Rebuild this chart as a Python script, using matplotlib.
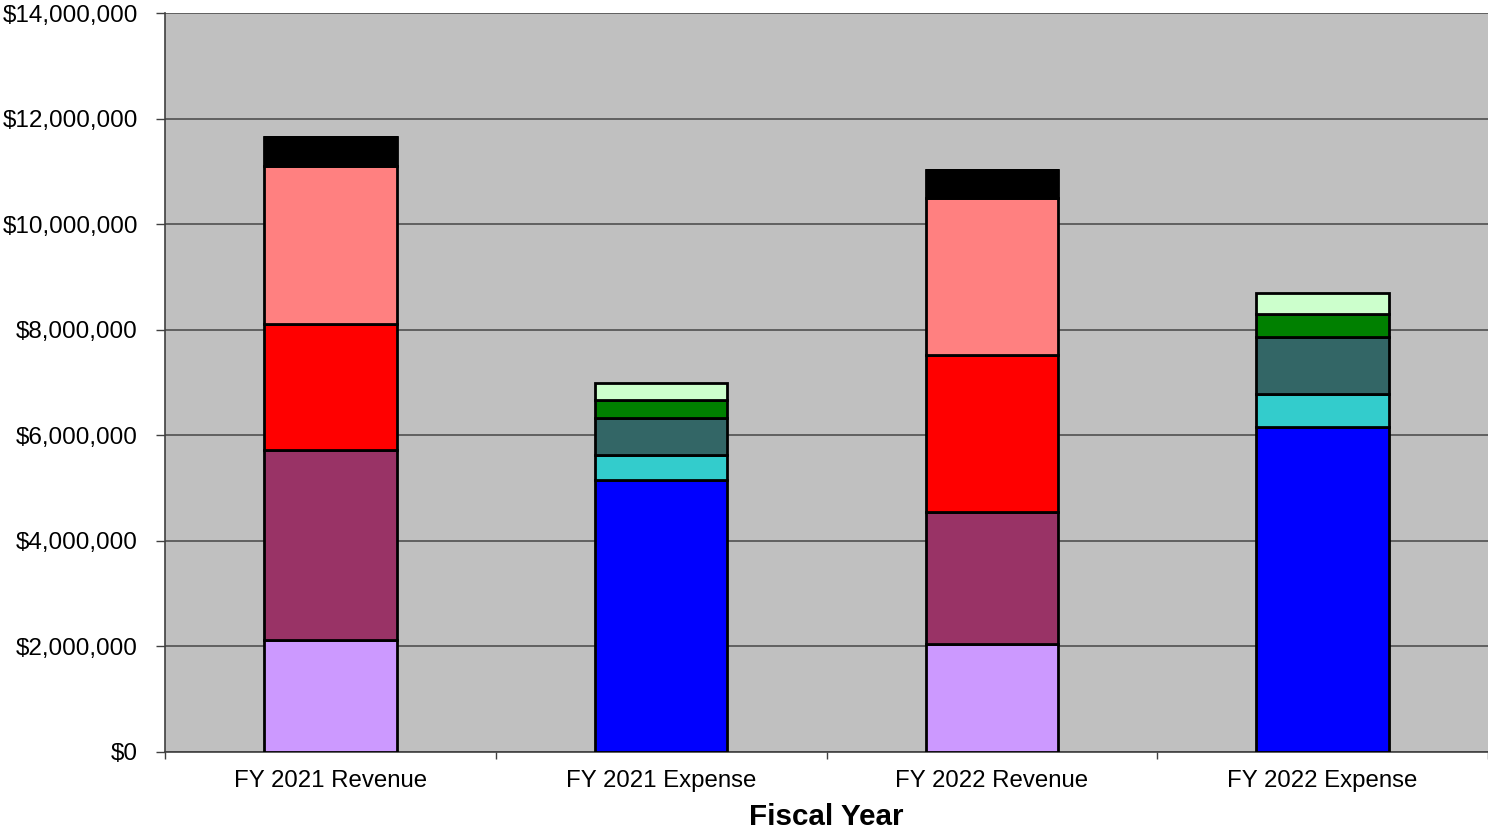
import numpy as np
import matplotlib.pyplot as plt
from matplotlib.ticker import FuncFormatter, FixedLocator

plt.rcParams['font.family'] = ['Liberation Sans', 'DejaVu Sans']

# Data (dollars, millions)
categories = ['FY 2021 Revenue', 'FY 2021 Expense', 'FY 2022 Revenue', 'FY 2022 Expense']

# revenue segments (bottom to top) -- zero for expense columns
rev_lavender = [2.13, 0, 2.05, 0]
rev_plum = [3.59, 0, 2.49, 0]
rev_red = [2.39, 0, 2.99, 0]
rev_pink = [2.99, 0, 2.96, 0]
rev_black = [0.55, 0, 0.53, 0]

# expense segments (bottom to top) -- zero for revenue columns
exp_blue = [0, 5.16, 0, 6.16]
exp_cyan = [0, 0.46, 0, 0.62]
exp_teal = [0, 0.71, 0, 1.09]
exp_green = [0, 0.33, 0, 0.42]
exp_lightgreen = [0, 0.34, 0, 0.41]

segments = [
    (rev_lavender, '#CC99FF'),
    (rev_plum, '#993366'),
    (rev_red, '#FF0000'),
    (rev_pink, '#FF8080'),
    (rev_black, '#000000'),
    (exp_blue, '#0000FF'),
    (exp_cyan, '#33CCCC'),
    (exp_teal, '#336666'),
    (exp_green, '#008000'),
    (exp_lightgreen, '#CCFFCC'),
]

fig = plt.figure(figsize=(14.88, 8.35), dpi=100)
ax = fig.add_axes([165 / 1488, 1 - 752 / 835, (1488 - 165) / 1488, (752 - 13) / 835])
ax.set_facecolor('#C0C0C0')

x = np.arange(len(categories))
bottom = np.zeros(len(categories))
for vals, color in segments:
    v = np.array(vals) * 1e6
    ax.bar(x, v, width=0.4, bottom=bottom, color=color, edgecolor='black',
           linewidth=2, zorder=3)
    bottom += v

ax.set_xlim(-0.5, len(categories) - 0.5)
ax.set_ylim(0, 14e6)
ax.set_yticks(np.arange(0, 14e6 + 1, 2e6))
ax.yaxis.set_major_formatter(FuncFormatter(lambda v, p: f'${v:,.0f}'))
ax.grid(axis='y', color='#505050', linewidth=1.2, zorder=1)

ax.set_xticks(x)
ax.set_xticklabels(categories)
ax.xaxis.set_minor_locator(FixedLocator(np.arange(-0.5, len(categories), 1.0)))
ax.tick_params(axis='x', which='major', length=0, labelsize=17.3, pad=13)
ax.tick_params(axis='x', which='minor', length=5, width=1, color='#404040')
ax.tick_params(axis='y', length=6.5, width=1, color='#404040', labelsize=17.5, pad=13)

for s in ['top', 'right']:
    ax.spines[s].set_visible(False)
for s in ['left', 'bottom']:
    ax.spines[s].set_color('#404040')
    ax.spines[s].set_linewidth(1.2)

ax.set_xlabel('Fiscal Year', fontsize=21.3, fontweight='bold', labelpad=8)

plt.savefig('out.png', dpi=100)
